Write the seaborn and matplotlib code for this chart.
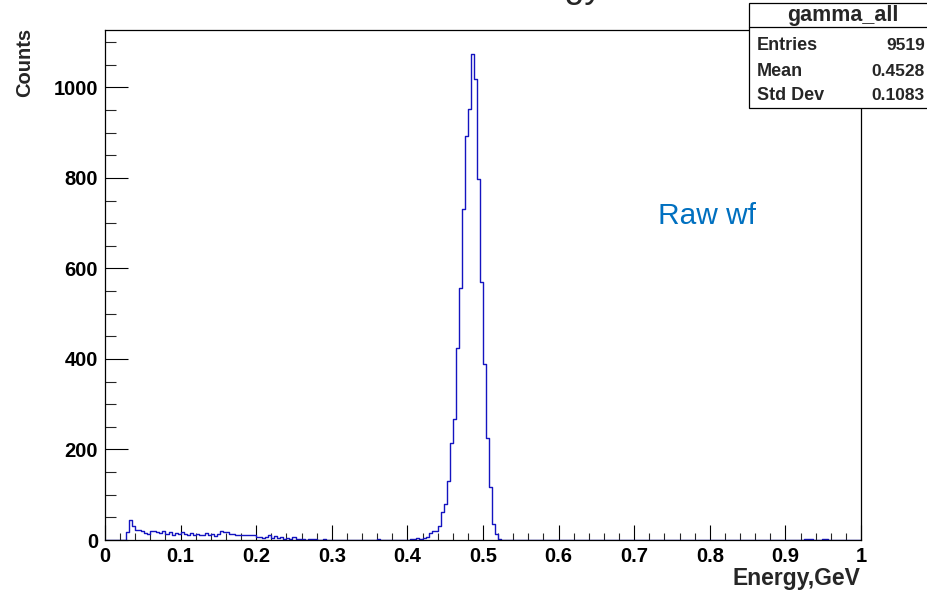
import numpy as np
import pandas as pd
import matplotlib
matplotlib.use("Agg")
import matplotlib.pyplot as plt
from matplotlib.patches import Rectangle
from matplotlib.lines import Line2D
from matplotlib.ticker import MultipleLocator, FuncFormatter
import seaborn as sns

# ---------------- data ----------------
bin_lo, bin_hi, n_bins = 0.0, 1.0, 250
counts = [
    0, 0, 0, 0, 0, 0, 0, 18, 45, 32, 22, 22, 19, 16, 13, 20, 19, 17, 15, 19, 14, 18, 11, 15, 13,
    17, 13, 12, 16, 11, 14, 12, 10, 15, 11, 13, 9, 14, 20, 17, 18, 13, 14, 11, 12, 10, 12, 11, 11, 12,
    6, 7, 5, 7, 12, 5, 8, 4, 6, 3, 5, 2, 6, 3, 2, 2, 1, 2, 2, 3, 1, 1, 2, 1, 1,
    1, 1, 0, 1, 1, 1, 1, 0, 1, 1, 0, 0, 0, 0, 0, 2, 1, 0, 0, 0, 1, 0, 0, 1, 1,
    1, 3, 2, 4, 3, 5, 6, 16, 20, 20, 32, 61, 80, 130, 215, 268, 424, 557, 732, 893, 952, 1074, 1019, 798, 571,
    390, 226, 117, 36, 14, 2, 1, 0, 0, 0, 0, 0, 0, 0, 0, 0, 0, 0, 0, 0, 0, 0, 0, 0, 0,
    0, 0, 0, 0, 0, 0, 0, 0, 0, 0, 0, 0, 0, 0, 0, 0, 0, 0, 0, 0, 0, 0, 0, 0, 0,
    0, 0, 0, 0, 0, 0, 0, 0, 0, 0, 0, 0, 0, 0, 0, 0, 0, 0, 0, 0, 0, 0, 0, 0, 0,
    0, 0, 0, 0, 0, 0, 0, 0, 0, 0, 0, 0, 0, 0, 0, 0, 0, 0, 0, 0, 0, 0, 0, 0, 0,
    0, 0, 0, 1, 0, 0, 2, 3, 2, 0, 0, 0, 2, 2, 0, 1, 0, 0, 0, 0, 1, 0, 0, 0, 0,
]
hist_name = "gamma_all"
stats_labels = ["Entries", "Mean", "Std Dev"]
stats_values = ["9519", "0.4528", "0.1083"]
title_text = "Energy"
x_label = "Energy,GeV"
y_label = "Counts"
annotation = "Raw wf"
x_range = (0.0, 1.0)
y_max = 1127

# ---------------- style ----------------
sns.set_style("white")
plt.rcParams["font.family"] = ["Liberation Sans", "DejaVu Sans"]

W, H = 928, 594
fig = plt.figure(figsize=(W / 100, H / 100), dpi=100)
fig.patch.set_facecolor("white")
ax = fig.add_axes([105 / W, 54 / H, 756 / W, 510 / H])

edges = np.linspace(bin_lo, bin_hi, n_bins + 1)
centers = (edges[:-1] + edges[1:]) / 2
df = pd.DataFrame({"energy": centers, "counts": counts})
sns.histplot(data=df, x="energy", weights="counts", bins=n_bins,
             binrange=(bin_lo, bin_hi),
             element="step", fill=False, color="#1414c0", linewidth=1.0, ax=ax)

ax.set_xlim(*x_range)
ax.set_ylim(0, y_max)
ax.set_xlabel("")
ax.set_ylabel("")
for s in ax.spines.values():
    s.set_visible(True)
    s.set_color("black")
    s.set_linewidth(0.9)

ax.xaxis.set_major_locator(MultipleLocator(0.1))
ax.xaxis.set_minor_locator(MultipleLocator(0.02))
ax.yaxis.set_major_locator(MultipleLocator(200))
ax.yaxis.set_minor_locator(MultipleLocator(50))
ax.xaxis.set_major_formatter(FuncFormatter(lambda v, p: f"{v:g}"))
ax.yaxis.set_major_formatter(FuncFormatter(lambda v, p: f"{v:g}"))

ax.tick_params(axis="x", which="major", direction="in", length=10.8, width=0.8,
               bottom=True, top=False, labelsize=14.5, pad=5, colors="black")
ax.tick_params(axis="x", which="minor", direction="in", length=5.4, width=0.8,
               bottom=True, top=False)
ax.tick_params(axis="y", which="major", direction="in", length=16.3, width=0.8,
               left=True, right=False, labelsize=14.5, pad=5, colors="black")
ax.tick_params(axis="y", which="minor", direction="in", length=8.2, width=0.8,
               left=True, right=False)
for lbl in ax.get_xticklabels() + ax.get_yticklabels():
    lbl.set_fontweight("bold")

# axis titles
fig.text(25 / W, 1 - 28 / H, y_label, rotation=90, ha="center", va="top",
         fontsize=14.5, fontweight="bold")
fig.text(860 / W, 1 - 578 / H, x_label, ha="right", va="center",
         fontsize=16.5, fontweight="bold")

# main title (cut off at the top edge, as in the reference: only descenders show)
fig.text(603 / W, 1 + 3 / H, title_text, ha="right", va="baseline", fontsize=26)

# annotation
fig.text(658 / W, 1 - 216 / H, annotation, ha="left", va="center",
         fontsize=21.5, color="#0070C0")

# stats box
bx0, bx1, by0, by1 = 749, 937, 3, 108
fig.add_artist(Rectangle((bx0 / W, 1 - by1 / H), (bx1 - bx0) / W, (by1 - by0) / H,
                         transform=fig.transFigure, facecolor="white",
                         edgecolor="black", linewidth=0.9, zorder=5))
fig.add_artist(Line2D([bx0 / W, bx1 / W], [1 - 27 / H, 1 - 27 / H],
                      transform=fig.transFigure, color="black", linewidth=0.9, zorder=6))
fig.text(843 / W, 1 - 15 / H, hist_name, ha="center", va="center",
         fontsize=15.5, fontweight="bold", zorder=7)
row_y = [46, 71, 96]
for lab, val, yy in zip(stats_labels, stats_values, row_y):
    fig.text(757 / W, 1 - yy / H, lab, ha="left", va="center",
             fontsize=13, fontweight="bold", zorder=7)
    fig.text(925 / W, 1 - yy / H, val, ha="right", va="center",
             fontsize=12.5, fontweight="bold", zorder=7)

fig.savefig("out.png", dpi=100)
